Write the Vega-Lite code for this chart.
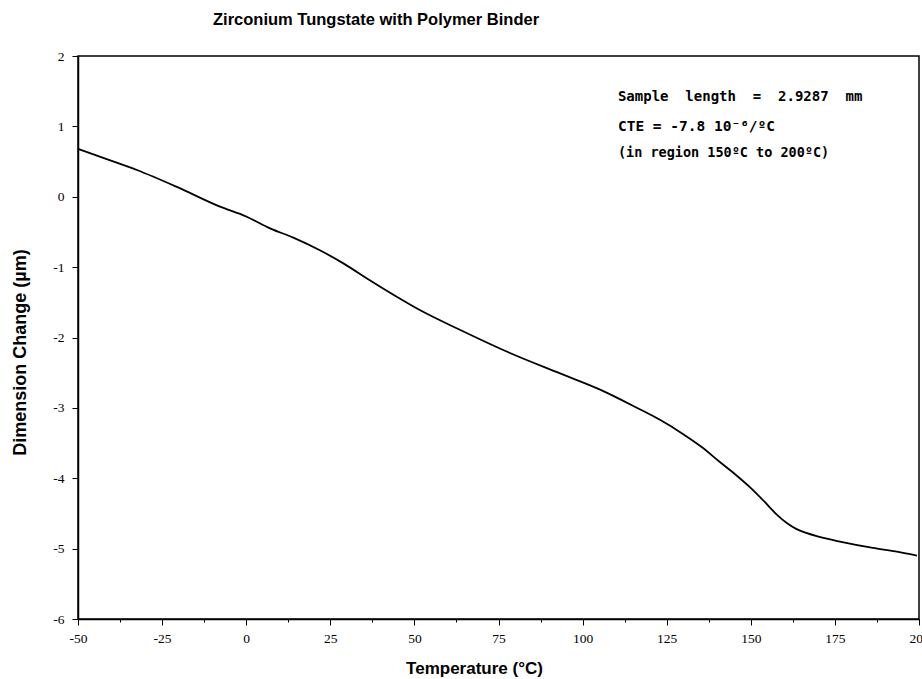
{
  "$schema": "https://vega.github.io/schema/vega-lite/v6.json",
  "autosize": {"type": "none"},
  "padding": {"left": 78, "top": 56, "right": 3, "bottom": 60},
  "width": 841,
  "height": 563,
  "background": "white",
  "title": {
    "text": "Zirconium Tungstate with Polymer Binder",
    "anchor": "start",
    "frame": "group",
    "dx": 135,
    "offset": 21,
    "font": "Liberation Sans",
    "fontSize": 16.5,
    "fontWeight": "bold",
    "color": "black"
  },
  "config": {
    "view": {"stroke": "black", "strokeWidth": 1.5},
    "axis": {
      "domainColor": "black",
      "domainWidth": 1.5,
      "tickColor": "black",
      "labelColor": "black",
      "titleColor": "black",
      "labelFont": "Liberation Serif",
      "labelFontSize": 13.5,
      "titleFont": "Liberation Sans",
      "titleFontWeight": "bold",
      "grid": false
    }
  },
  "datasets": {
    "curve": [
      {"temp": -50, "dl": 0.68},
      {"temp": -40, "dl": 0.51},
      {"temp": -32.5, "dl": 0.38},
      {"temp": -20.6, "dl": 0.14},
      {"temp": -7.8, "dl": -0.14},
      {"temp": 0, "dl": -0.28},
      {"temp": 7.1, "dl": -0.45},
      {"temp": 14, "dl": -0.58},
      {"temp": 21.9, "dl": -0.76},
      {"temp": 29, "dl": -0.95},
      {"temp": 36.5, "dl": -1.18},
      {"temp": 44, "dl": -1.40},
      {"temp": 51.6, "dl": -1.61},
      {"temp": 63.5, "dl": -1.89},
      {"temp": 78.4, "dl": -2.22},
      {"temp": 93.3, "dl": -2.51},
      {"temp": 105.2, "dl": -2.74},
      {"temp": 117, "dl": -3.02},
      {"temp": 123, "dl": -3.17},
      {"temp": 129.8, "dl": -3.37},
      {"temp": 135.5, "dl": -3.56},
      {"temp": 140.8, "dl": -3.77},
      {"temp": 145.5, "dl": -3.95},
      {"temp": 149.8, "dl": -4.13},
      {"temp": 154, "dl": -4.33},
      {"temp": 157.8, "dl": -4.52},
      {"temp": 160.8, "dl": -4.64},
      {"temp": 163.5, "dl": -4.72},
      {"temp": 166.7, "dl": -4.78},
      {"temp": 171, "dl": -4.84},
      {"temp": 176.5, "dl": -4.90},
      {"temp": 186.3, "dl": -4.99},
      {"temp": 193, "dl": -5.04},
      {"temp": 199.4, "dl": -5.10}
    ],
    "notes": [
      {"temp": 110.5, "dl": 1.42, "label": "Sample\u00a0\u00a0length\u00a0\u00a0=\u00a0\u00a02.9287\u00a0\u00a0mm", "size": 14},
      {"temp": 110.5, "dl": 0.99, "label": "CTE = -7.8 10⁻⁶/ºC", "size": 14.5},
      {"temp": 110.5, "dl": 0.62, "label": "(in region 150ºC to 200ºC)", "size": 13.5}
    ]
  },
  "layer": [
    {
      "data": {"name": "curve"},
      "mark": {"type": "line", "color": "black", "strokeWidth": 1.8, "interpolate": "monotone"},
      "encoding": {
        "x": {
          "field": "temp", "type": "quantitative",
          "scale": {"domain": [-50, 200], "nice": false, "zero": false},
          "axis": {
            "title": "Temperature (°C)",
            "titleFontSize": 17,
            "titleX": 396,
            "values": [-50, -37.5, -25, -12.5, 0, 12.5, 25, 37.5, 50, 62.5, 75, 87.5, 100, 112.5, 125, 137.5, 150, 162.5, 175, 187.5, 200],
            "labelExpr": "datum.value % 25 === 0 ? '' + datum.value : ''",
            "tickSize": {"condition": {"test": "datum.value % 25 === 0", "value": 6}, "value": 3},
            "labelPadding": 6,
            "titlePadding": 16,
            "labelFlush": false,
            "labelOverlap": false
          }
        },
        "y": {
          "field": "dl", "type": "quantitative",
          "scale": {"domain": [-6, 2], "nice": false, "zero": false},
          "axis": {
            "title": "Dimension Change (µm)",
            "titleFontSize": 18,
            "titleY": 296,
            "values": [-6, -5.5, -5, -4.5, -4, -3.5, -3, -2.5, -2, -1.5, -1, -0.5, 0, 0.5, 1, 1.5, 2],
            "labelExpr": "datum.value % 1 === 0 ? '' + datum.value : ''",
            "tickSize": {"condition": {"test": "datum.value % 1 === 0", "value": 6}, "value": 3},
            "labelPadding": 8,
            "titlePadding": 23,
            "labelFlush": false,
            "labelOverlap": false
          }
        }
      }
    },
    {
      "data": {"name": "notes"},
      "mark": {"type": "text", "align": "left", "baseline": "middle", "font": "DejaVu Sans Mono", "fontWeight": "bold", "color": "black"},
      "encoding": {
        "x": {"field": "temp", "type": "quantitative"},
        "y": {"field": "dl", "type": "quantitative"},
        "text": {"field": "label"},
        "size": {"field": "size", "type": "quantitative", "scale": null}
      }
    }
  ]
}
